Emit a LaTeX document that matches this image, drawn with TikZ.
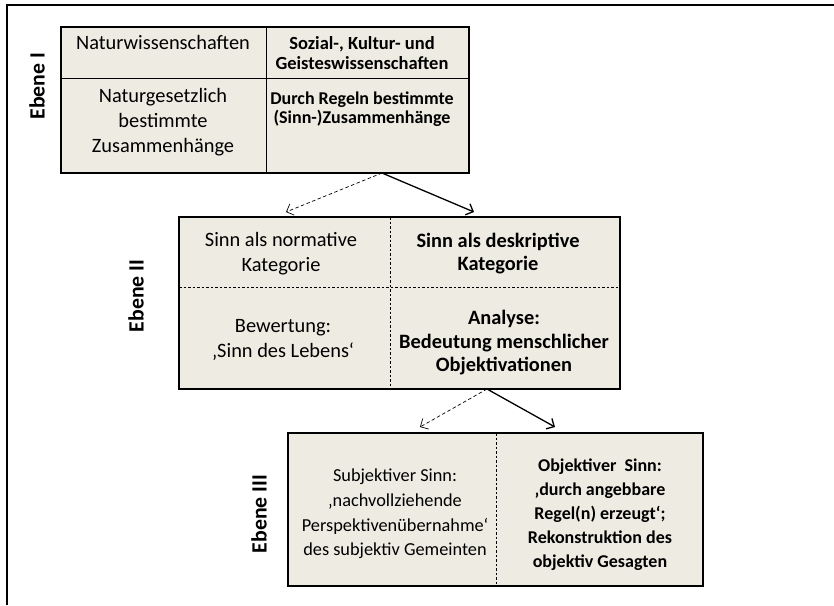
\documentclass[tikz,border=0pt]{standalone}
\usepackage{fontspec}
\setmainfont{Carlito}
\usepackage{tikz}
\usetikzlibrary{arrows.meta}

\definecolor{zellgrau}{RGB}{238,236,226}

\tikzset{
	ebenenbox/.style={draw, line width=2.6pt, fill=zellgrau, inner sep=0pt},
	zelle/.style={align=center, inner sep=0pt},
	gross/.style={font=\fontsize{20.4}{25}\selectfont},
	fett/.style={font=\fontsize{18.5}{20}\bfseries\selectfont},
	ebene/.style={rotate=90, inner sep=0pt, font=\fontsize{21.8}{24}\bfseries\selectfont},
	pfeil/.style={-{Straight Barb[length=6pt,width=12pt]}, line width=1.3pt},
	pfeilgestr/.style={-{Straight Barb[length=6pt,width=12pt]}, line width=0.7pt, dash pattern=on 3.5pt off 2.5pt},
}

\begin{document}
\begin{tikzpicture}[x=1pt,y=-1pt]
		\useasboundingbox (0,0) rectangle (834,605);
		\draw[line width=2.6pt] (7,605) -- (7,5) -- (834,5);
		
		% Ebene I
		\node[ebenenbox, minimum width=408pt, minimum height=146pt](boxI) at (265,100) {};
		\draw[line width=0.9pt] (266,27) -- (266,173);
		\draw[line width=0.9pt] (61,78) -- (469,78);
		\node[zelle, gross](nat) at (163,42) {Naturwissenschaften};
		\node[zelle, fett](soz) at (362,53) {Sozial-, Kultur- und\\Geisteswissenschaften};
		\node[zelle, gross](natges) at (163,122) {Naturgesetzlich\\bestimmte\\Zusammenhänge};
		\node[zelle, fett, font=\fontsize{18}{19.5}\bfseries\selectfont](regeln) at (362,109) {Durch Regeln bestimmte\\(Sinn-)Zusammenhänge};
		\node[ebene](ebI) at (37,86) {Ebene I};
		
		% Ebene II
		\node[ebenenbox, minimum width=441pt, minimum height=172pt](boxII) at (399.5,303) {};
		\draw[line width=0.7pt, dash pattern=on 2.5pt off 2pt] (390,217) -- (390,389);
		\draw[line width=0.7pt, dash pattern=on 2.5pt off 2pt] (179,287) -- (620,287);
		\node[zelle, gross](norm) at (281,254) {Sinn als normative\\Kategorie};
		\node[zelle, gross, font=\fontsize{20.4}{23}\bfseries\selectfont](deskr) at (498,254) {Sinn als deskriptive\\Kategorie};
		\node[zelle, gross](bew) at (283,340) {Bewertung:\\‚Sinn des Lebens‘};
		\node[zelle, font=\fontsize{20.4}{23.5}\bfseries\selectfont](analyse) at (504,343) {Analyse:\\Bedeutung menschlicher\\Objektivationen};
		\node[ebene](ebII) at (136,296) {Ebene II};
		
		% Ebene III
		\node[ebenenbox, minimum width=415pt, minimum height=153pt](boxIII) at (495.5,509.5) {};
		\draw[line width=0.7pt, dash pattern=on 2.5pt off 2pt] (496,433) -- (496,586);
		\node[zelle, font=\fontsize{18.3}{24.7}\selectfont](subj) at (395,514) {Subjektiver Sinn:\\‚nachvollziehende\\Perspektivenübernahme‘\\des subjektiv Gemeinten};
		\node[zelle, font=\fontsize{18}{24}\bfseries\selectfont](obj) at (600,515) {Objektiver\ \ Sinn:\\‚durch angebbare\\Regel(n) erzeugt‘;\\Rekonstruktion des\\objektiv Gesagten};
		\node[ebene](ebIII) at (259,514) {Ebene III};
		
		% Pfeile
		\coordinate (ausI) at (382,173);
		\coordinate (zielIl) at (286,212);
		\coordinate (zielIr) at (474,212);
		\coordinate (ausII) at (487,389);
		\coordinate (zielIIl) at (420,427);
		\coordinate (zielIIr) at (555,427);
		\draw[pfeilgestr] (ausI) -- (zielIl);
		\draw[pfeil] (ausI) -- (zielIr);
		\draw[pfeilgestr] (ausII) -- (zielIIl);
		\draw[pfeil] (ausII) -- (zielIIr);
	\end{tikzpicture}
\end{document}
